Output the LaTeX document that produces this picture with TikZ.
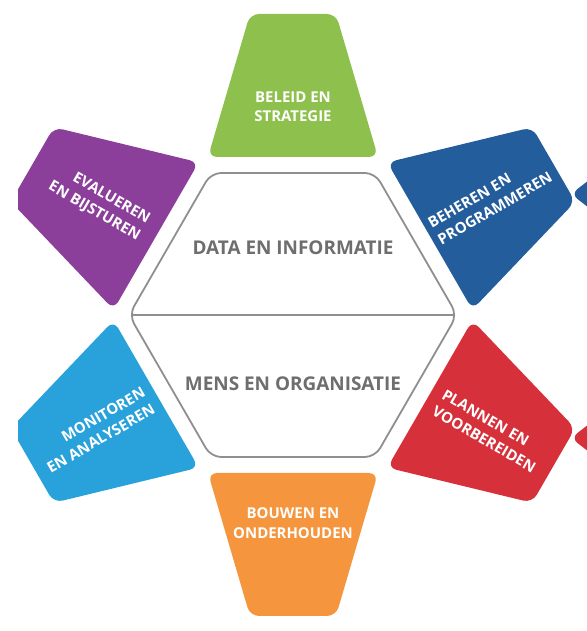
\documentclass[tikz,border=0pt]{standalone}
\usepackage{fontspec}
\setmainfont{Open Sans}
\usetikzlibrary{calc}
\definecolor{cgreen}{HTML}{8DC04C}
\definecolor{cblue}{HTML}{235D9C}
\definecolor{cred}{HTML}{D6303A}
\definecolor{corange}{HTML}{F5963E}
\definecolor{clblue}{HTML}{29A2DB}
\definecolor{cpurple}{HTML}{8B3F9B}
\definecolor{ctext}{HTML}{6E6E6E}
\definecolor{cline}{HTML}{8F8F8F}
\begin{document}
\begin{tikzpicture}[x=1bp,y=1bp,
  petal/.style={rounded corners=9bp},
  ptxt/.style={text=white,font=\bfseries\fontsize{15}{19.5}\selectfont,inner sep=0pt},
  ctxt/.style={text=ctext,font=\bfseries\fontsize{19}{22}\selectfont,inner sep=0pt}]
\useasboundingbox (0,0) rectangle (587,631);
\coordinate (C) at (293,316);
\begin{scope}
\clip (18,0) rectangle (587,631);
\foreach \r/\c in {0/cgreen,-60/cblue,-120/cred,180/corange,120/clblue,60/cpurple}{
  \fill[\c,petal,shift={(C)},rotate=\r] (-85,158) -- (85,158) -- (43,301) -- (-43,301) -- cycle;
}
\fill[cblue,rounded corners=8bp] (571,437) -- (620,475) -- (620,399) -- cycle;
\fill[cred,rounded corners=8bp] (571,193) -- (620,231) -- (620,155) -- cycle;
\end{scope}
\draw[cline,line width=1.8bp,rounded corners=10bp,fill=white,shift={(C)}]
  (164,0) -- (82,142) -- (-82,142) -- (-164,0) -- (-82,-142) -- (82,-142) -- cycle;
\draw[cline,line width=1.8bp] ($(C)+(-162,0)$) coordinate (hl) -- ($(C)+(162,0)$) coordinate (hr);
\node[ctxt] (data) at ($(C)+(0,67)$) {DATA EN INFORMATIE};
\node[ctxt] (mens) at ($(C)+(0,-69)$) {MENS EN ORGANISATIE};
\node[ptxt,align=center] (beleid) at ($(C)+(0,208)$) {BELEID EN\\STRATEGIE};
\node[ptxt,align=center] (bouwen) at ($(C)+(0,-208)$) {BOUWEN EN\\ONDERHOUDEN};
\node[ptxt,align=left,rotate=30] (beheren) at ($(C)+(197,115)$) {BEHEREN EN\\PROGRAMMEREN};
\node[ptxt,align=left,rotate=-30] (plannen) at ($(C)+(196,-116)$) {PLANNEN EN\\VOORBEREIDEN};
\node[ptxt,align=right,rotate=30] (monitoren) at ($(C)+(-197,-115)$) {MONITOREN\\EN ANALYSEREN};
\node[ptxt,align=right,rotate=-30] (evalueren) at ($(C)+(-194,112)$) {EVALUEREN\\EN BIJSTUREN};
\end{tikzpicture}
\end{document}
